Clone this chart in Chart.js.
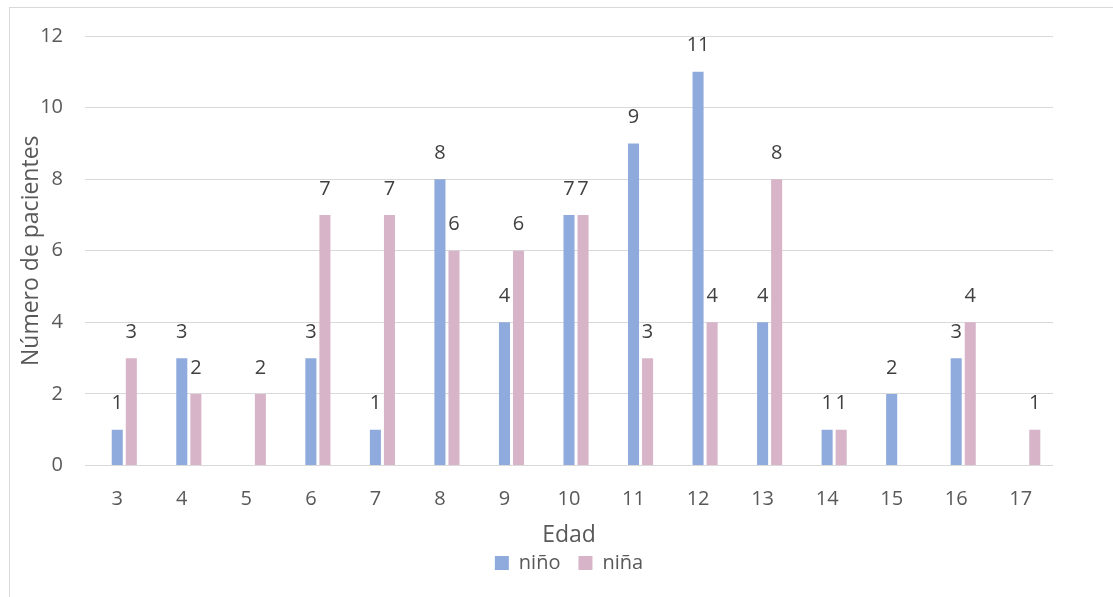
<!DOCTYPE html>
<html>
<head>
<meta charset="utf-8">
<script src="https://cdn.jsdelivr.net/npm/chart.js"></script>
<style>
  html, body { margin: 0; padding: 0; background: #fff; overflow: hidden; }
  #wrap { position: relative; width: 1113px; height: 597px; }
  #marco { position: absolute; left: 9px; top: 7px; width: 1200px; height: 700px; border: 1px solid #d9d9d9; }
  #grafico { position: absolute; left: 0; top: 0; }
</style>
</head>
<body>
<div id="wrap">
  <div id="marco"></div>
  <canvas id="grafico" width="1113" height="597"></canvas>
</div>
<script>
var edades = ['3', '4', '5', '6', '7', '8', '9', '10', '11', '12', '13', '14', '15', '16', '17'];
var ninos = [1, 3, 0, 3, 1, 8, 4, 7, 9, 11, 4, 1, 2, 3, 0];
var ninas = [3, 2, 2, 7, 7, 6, 6, 7, 3, 4, 8, 1, 0, 4, 1];
// serie vacia que ocupa el primer hueco del grupo (como en el original)
var vacia = [null, null, null, null, null, null, null, null, null, null, null, null, null, null, null];

var fuente = '"Open Sans", sans-serif';
var gris = '#595959';

// etiquetas encima de cada barra
var etiquetas = {
  id: 'etiquetas',
  afterDatasetsDraw: function(chart) {
    var ctx = chart.ctx;
    ctx.save();
    ctx.font = '20px ' + fuente;
    ctx.fillStyle = '#404040';
    ctx.textAlign = 'center';
    ctx.textBaseline = 'middle';
    chart.data.datasets.forEach(function(ds, i) {
      if (!ds.label) return;
      chart.getDatasetMeta(i).data.forEach(function(bar, j) {
        var v = ds.data[j];
        if (!v) return;
        ctx.fillText(String(v), bar.x, bar.y - 26);
      });
    });
    ctx.restore();
  }
};

var ctx = document.getElementById('grafico').getContext('2d');
var chart = new Chart(ctx, {
  type: 'bar',
  data: {
    labels: edades,
    datasets: [
      { label: '', data: vacia, backgroundColor: 'rgba(0,0,0,0)' },
      { label: 'niño', data: ninos, backgroundColor: '#8faadc' },
      { label: 'niña', data: ninas, backgroundColor: '#d7b4c7' }
    ]
  },
  options: {
    responsive: false,
    animation: false,
    categoryPercentage: 0.653,
    barPercentage: 0.786,
    layout: { padding: { top: 36, right: 60, bottom: 14, left: 0 } },
    plugins: {
      tooltip: { enabled: false },
      legend: {
        position: 'bottom',
        fullSize: false,
        labels: {
          boxWidth: 14,
          boxHeight: 14,
          padding: 18,
          color: gris,
          font: { family: fuente, size: 20 },
          filter: function(item) { return item.text !== ''; }
        }
      }
    },
    scales: {
      x: {
        grid: { display: false },
        border: { display: false },
        ticks: { color: gris, padding: 14, font: { family: fuente, size: 20 } },
        title: {
          display: true, text: 'Edad', color: gris,
          font: { family: fuente, size: 23 },
          padding: { top: 0, bottom: -14 }
        },
        afterFit: function(scale) { scale.height = 69.5; }
      },
      y: {
        min: 0, max: 12,
        grid: { color: '#d9d9d9', lineWidth: 1, drawTicks: false },
        border: { display: false },
        ticks: { stepSize: 2, color: gris, padding: 22, font: { family: fuente, size: 20 } },
        title: {
          display: true, text: 'Número de pacientes', color: gris,
          font: { family: fuente, size: 23 },
          padding: { top: 18, bottom: 0 }
        },
        afterFit: function(scale) { scale.width = 85; }
      }
    }
  },
  plugins: [etiquetas]
});
</script>
</body>
</html>
